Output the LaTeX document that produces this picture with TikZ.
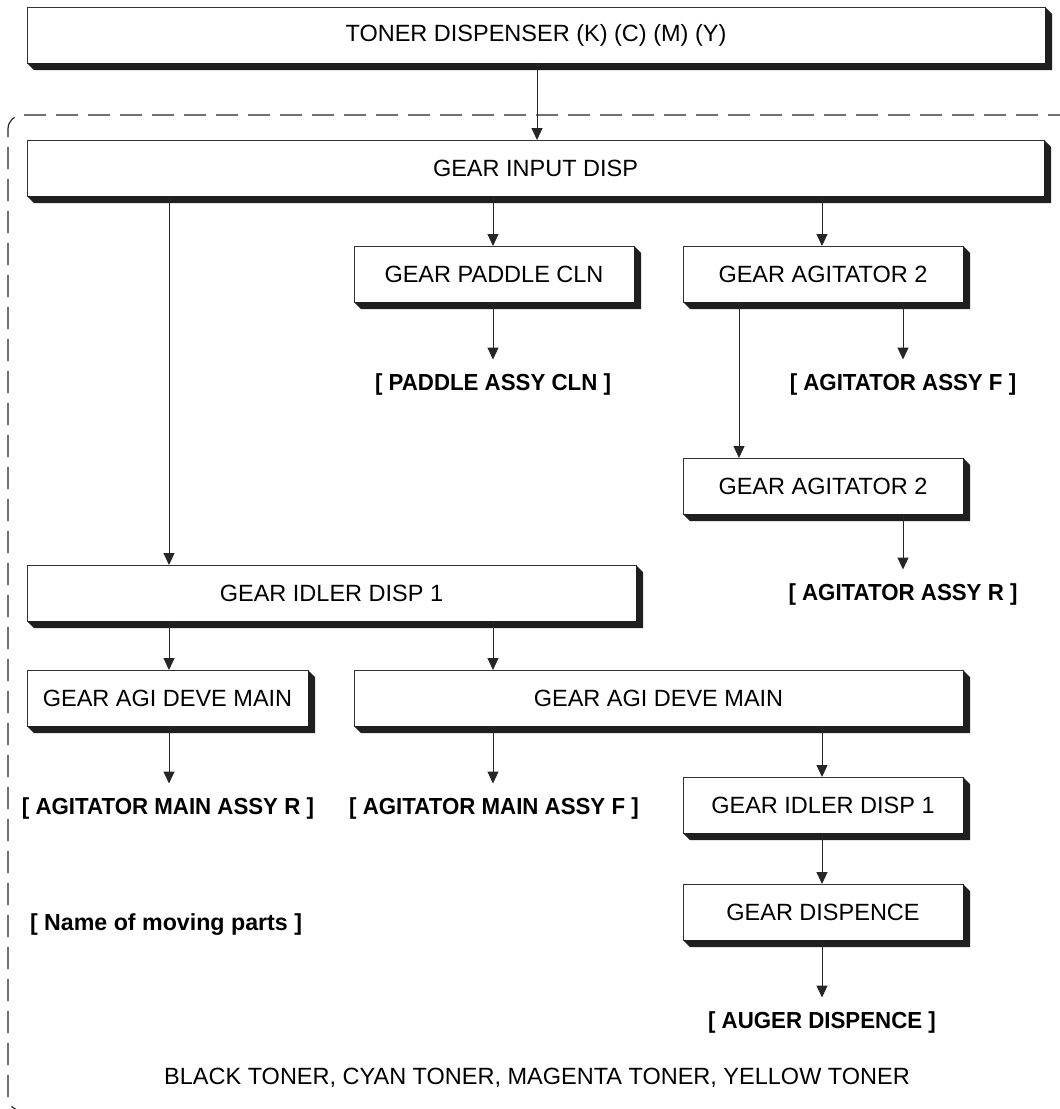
\documentclass[tikz,border=0pt]{standalone}
\usepackage{fontspec}
\setmainfont{Liberation Sans}
\usetikzlibrary{arrows.meta,calc}
\newcommand\lbtext[1]{\scalebox{0.96}[1]{#1}}
\tikzset{
 gbox/.style={draw=black!80, line width=0.9pt, fill=white, inner sep=0pt, outer sep=0pt, minimum height=56pt, font=\fontsize{23.5}{27}\selectfont},
 lbl/.style={inner sep=0pt, outer sep=14pt, text height=17pt, text depth=4pt, font=\bfseries\fontsize{23.2}{27}\selectfont},
 plain/.style={inner sep=0pt, font=\fontsize{23.5}{27}\selectfont},
 arr/.style={line width=1pt, draw=black!85, -{Triangle[length=12pt,width=11pt]}},
 shd/.style={fill=black!88},
 frame/.style={line width=1.2pt, draw=black!85, dash pattern=on 22pt off 10pt, rounded corners=14pt}
}
\begin{document}
\begin{tikzpicture}[x=1pt,y=-1pt]
\useasboundingbox (0,0) rectangle (1060,1109);
\clip (0,0) rectangle (1060,1109);
% dashed frame
\draw[frame] (1070,115) -- (8,115) -- (8,1111) -- (60,1111);
% column coordinates
\coordinate (c0) at (537,0);
\coordinate (c1) at (169,0);
\coordinate (c2) at (493,0);
\coordinate (c3) at (822,0);
\coordinate (c4) at (739,0);
\coordinate (c5) at (903,0);
% boxes
\node[gbox, minimum width=1018pt] (tdisp) at (536,35) {TONER DISPENSER (K) (C) (M) (Y)};
\node[gbox, minimum width=1017pt] (input) at (535.5,168) {GEAR INPUT DISP};
\node[gbox, minimum width=280pt] (paddle) at (494,274) {GEAR PADDLE CLN};
\node[gbox, minimum width=280pt] (agita) at (823,274) {GEAR AGITATOR 2};
\node[gbox, minimum width=280pt] (agitb) at (823,486) {GEAR AGITATOR 2};
\node[gbox, minimum width=609pt] (idlera) at (331.5,593) {GEAR IDLER DISP 1};
\node[gbox, minimum width=281pt] (agiR) at (167.5,698) {GEAR AGI DEVE MAIN};
\node[gbox, minimum width=609pt] (agiF) at (658.5,698) {GEAR AGI DEVE MAIN};
\node[gbox, minimum width=280pt] (idlerb) at (823,805) {GEAR IDLER DISP 1};
\node[gbox, minimum width=280pt] (disp) at (823,912) {GEAR DISPENCE};
% labels
\node[lbl] (paddleL) at (493,384) {\lbtext{[ PADDLE ASSY CLN ]}};
\node[lbl] (agFL) at (903,384) {\lbtext{[ AGITATOR ASSY F ]}};
\node[lbl] (agRL) at (903,594) {\lbtext{[ AGITATOR ASSY R ]}};
\node[lbl] (mainR) at (168,808) {\lbtext{[ AGITATOR MAIN ASSY R ]}};
\node[lbl] (mainF) at (494,808) {\lbtext{[ AGITATOR MAIN ASSY F ]}};
\node[lbl] (auger) at (822,1022) {\lbtext{[ AUGER DISPENCE ]}};
\node[lbl] (namep) at (166,924) {[ Name of moving parts ]};
\node[plain] (toners) at (537,1078) {BLACK TONER, CYAN TONER, MAGENTA TONER, YELLOW TONER};
% shadows
\foreach \n in {tdisp,input,paddle,agita,agitb,idlera,agiR,agiF,idlerb,disp}{
  \fill[shd] (\n.south west) -- ++(7,7) -- ($(\n.south east)+(7,7)$) -- ($(\n.north east)+(7,7)$) -- (\n.north east) -- (\n.south east) -- cycle;
}
% connectors
\draw[arr] (tdisp.south -| c0) -- (input.north -| c0);
\draw[arr] (input.south -| c1) -- (idlera.north -| c1);
\draw[arr] (input.south -| c2) -- (paddle.north -| c2);
\draw[arr] (input.south -| c3) -- (agita.north -| c3);
\draw[arr] (paddle.south -| c2) -- (paddleL.north -| c2);
\draw[arr] (agita.south -| c4) -- (agitb.north -| c4);
\draw[arr] (agita.south -| c5) -- (agFL.north -| c5);
\draw[arr] (agitb.south -| c5) -- (agRL.north -| c5);
\draw[arr] (idlera.south -| c1) -- (agiR.north -| c1);
\draw[arr] (idlera.south -| c2) -- (agiF.north -| c2);
\draw[arr] (agiR.south -| c1) -- (mainR.north -| c1);
\draw[arr] (agiF.south -| c2) -- (mainF.north -| c2);
\draw[arr] (agiF.south -| c3) -- (idlerb.north -| c3);
\draw[arr] (idlerb.south -| c3) -- (disp.north -| c3);
\draw[arr] (disp.south -| c3) -- (auger.north -| c3);
\end{tikzpicture}
\end{document}
